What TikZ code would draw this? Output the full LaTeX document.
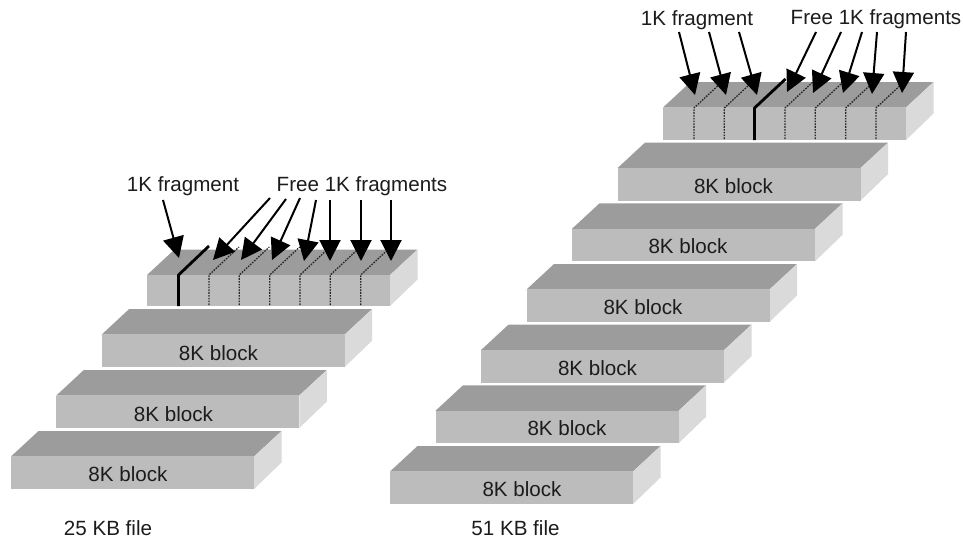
\documentclass[tikz,border=0pt]{standalone}
\usepackage{fontspec}
\setmainfont{Liberation Sans}
\usetikzlibrary{arrows.meta}
\definecolor{topc}{HTML}{9C9C9C}
\definecolor{frontc}{HTML}{BCBCBC}
\definecolor{sidec}{HTML}{DADADA}
\definecolor{inkc}{HTML}{1C1C1C}
\tikzset{
  lbl/.style={inner sep=0pt,text=inkc,font=\fontsize{20.6}{24}\selectfont},
  pointer/.style={draw=black,line width=2pt,-{Triangle[width=21pt,length=21pt]},shorten >=0pt},
  fragthick/.style={draw=black,line width=2.8pt,line join=round},
  fragfree/.style={draw=black!85,line width=1.3pt,dash pattern=on 1.6pt off 1.2pt},
}
% #1 name, #2 front-left x, #3 front-bottom y, #4 front height
\newcommand{\slab}[4]{%
  \fill[topc] (#2,#3-#4) -- (#2+27.5,#3-#4-25.5) -- (#2+270.5,#3-#4-25.5) -- (#2+243,#3-#4) -- cycle;
  \fill[sidec] (#2+243,#3-#4) -- (#2+270.5,#3-#4-25.5) -- (#2+270.5,#3-26.5) -- (#2+243,#3) -- cycle;
  \fill[frontc] (#2,#3-#4) rectangle (#2+243,#3);
  \coordinate (#1) at (#2,#3);
}
% #1 name, #2 front x, #3 front-bottom y, #4 style, #5 front height, #6 top dx, #7 top dy
\newcommand{\divider}[7]{%
  \coordinate (#1a) at (#2,#3);
  \coordinate (#1b) at (#2,#3-#5);
  \coordinate (#1c) at (#2+#6,#3-#5-#7);
  \draw[#4] (#1a) -- (#1b) -- (#1c);
}
\begin{document}
\begin{tikzpicture}[x=1pt,y=-1pt]
\useasboundingbox (0,0) rectangle (963,539);
\fill[white] (0,0) rectangle (963,539);

% left stack
\slab{la}{11}{489}{32.5}
\node[lbl] (lat) at (128,474) {8K block};
\slab{lb}{56.3}{428}{32.5}
\node[lbl] (lbt) at (173.5,414) {8K block};
\slab{lc}{101.7}{367}{32.5}
\node[lbl] (lct) at (218.5,353) {8K block};
\slab{ld}{147}{306}{31}

\divider{ldt}{178.5}{306}{fragthick}{31}{30.5}{29}
\foreach \n/\x in {1/209,2/239.3,3/269.7,4/300,5/330.3,6/360.7}
  \divider{ldf\n}{\x}{305}{fragfree}{30}{30}{28};

% right stack
\slab{ra}{390}{504}{32.5}
\node[lbl] (rat) at (522,489) {8K block};
\slab{rb}{435.5}{443.3}{32.5}
\node[lbl] (rbt) at (567,428) {8K block};
\slab{rc}{481}{382.6}{32.5}
\node[lbl] (rct) at (597.5,368) {8K block};
\slab{rd}{526.5}{322}{32.5}
\node[lbl] (rdt) at (643,307) {8K block};
\slab{re}{572}{261.3}{32.5}
\node[lbl] (ret) at (688,246) {8K block};
\slab{rf}{617.5}{200.6}{32.5}
\node[lbl] (rft) at (733.5,186) {8K block};
\slab{rg}{663}{140}{32.5}

\divider{rgt}{754.5}{140}{fragthick}{32}{31}{29}
\foreach \n/\x in {1/694,2/724.3,3/785,4/815.3,5/845.7,6/876}
  \divider{rgf\n}{\x}{139}{fragfree}{31}{30}{28};

% labels
\node[lbl] (lfrag) at (183,186) {1K fragment};
\node[lbl] (lfree) at (362,186) {Free 1K fragments};
\node[lbl] (rfrag) at (697,20) {1K fragment};
\node[lbl] (rfree) at (876,19) {Free 1K fragments};
\node[lbl] (lcap) at (108,528.5) {25 KB file};
\node[lbl] (rcap) at (515.5,528.5) {51 KB file};

% left pointers
\foreach \n/\sx/\sy/\ex/\ey in {
  a/163/200/179/258,
  b/270/198/213/260,
  c/286/199/241/260,
  d/300/198/272/260,
  e/316/200/304/261,
  f/330/200/330/261,
  g/361/200/361/261,
  h/391/200/391/261}{
  \coordinate (lps\n) at (\sx,\sy);
  \coordinate (lpe\n) at (\ex,\ey);
  \draw[pointer] (lps\n) -- (lpe\n);
}
% right pointers
\foreach \n/\sx/\sy/\ex/\ey in {
  a/679/32/695/95,
  b/709/32/726/95,
  c/739/32/757/95,
  d/816/32/787/92,
  e/841/32/813/93,
  f/862/32/843/93,
  g/877/32/872/94,
  h/906/32/902/93}{
  \coordinate (rps\n) at (\sx,\sy);
  \coordinate (rpe\n) at (\ex,\ey);
  \draw[pointer] (rps\n) -- (rpe\n);
}
\end{tikzpicture}
\end{document}
